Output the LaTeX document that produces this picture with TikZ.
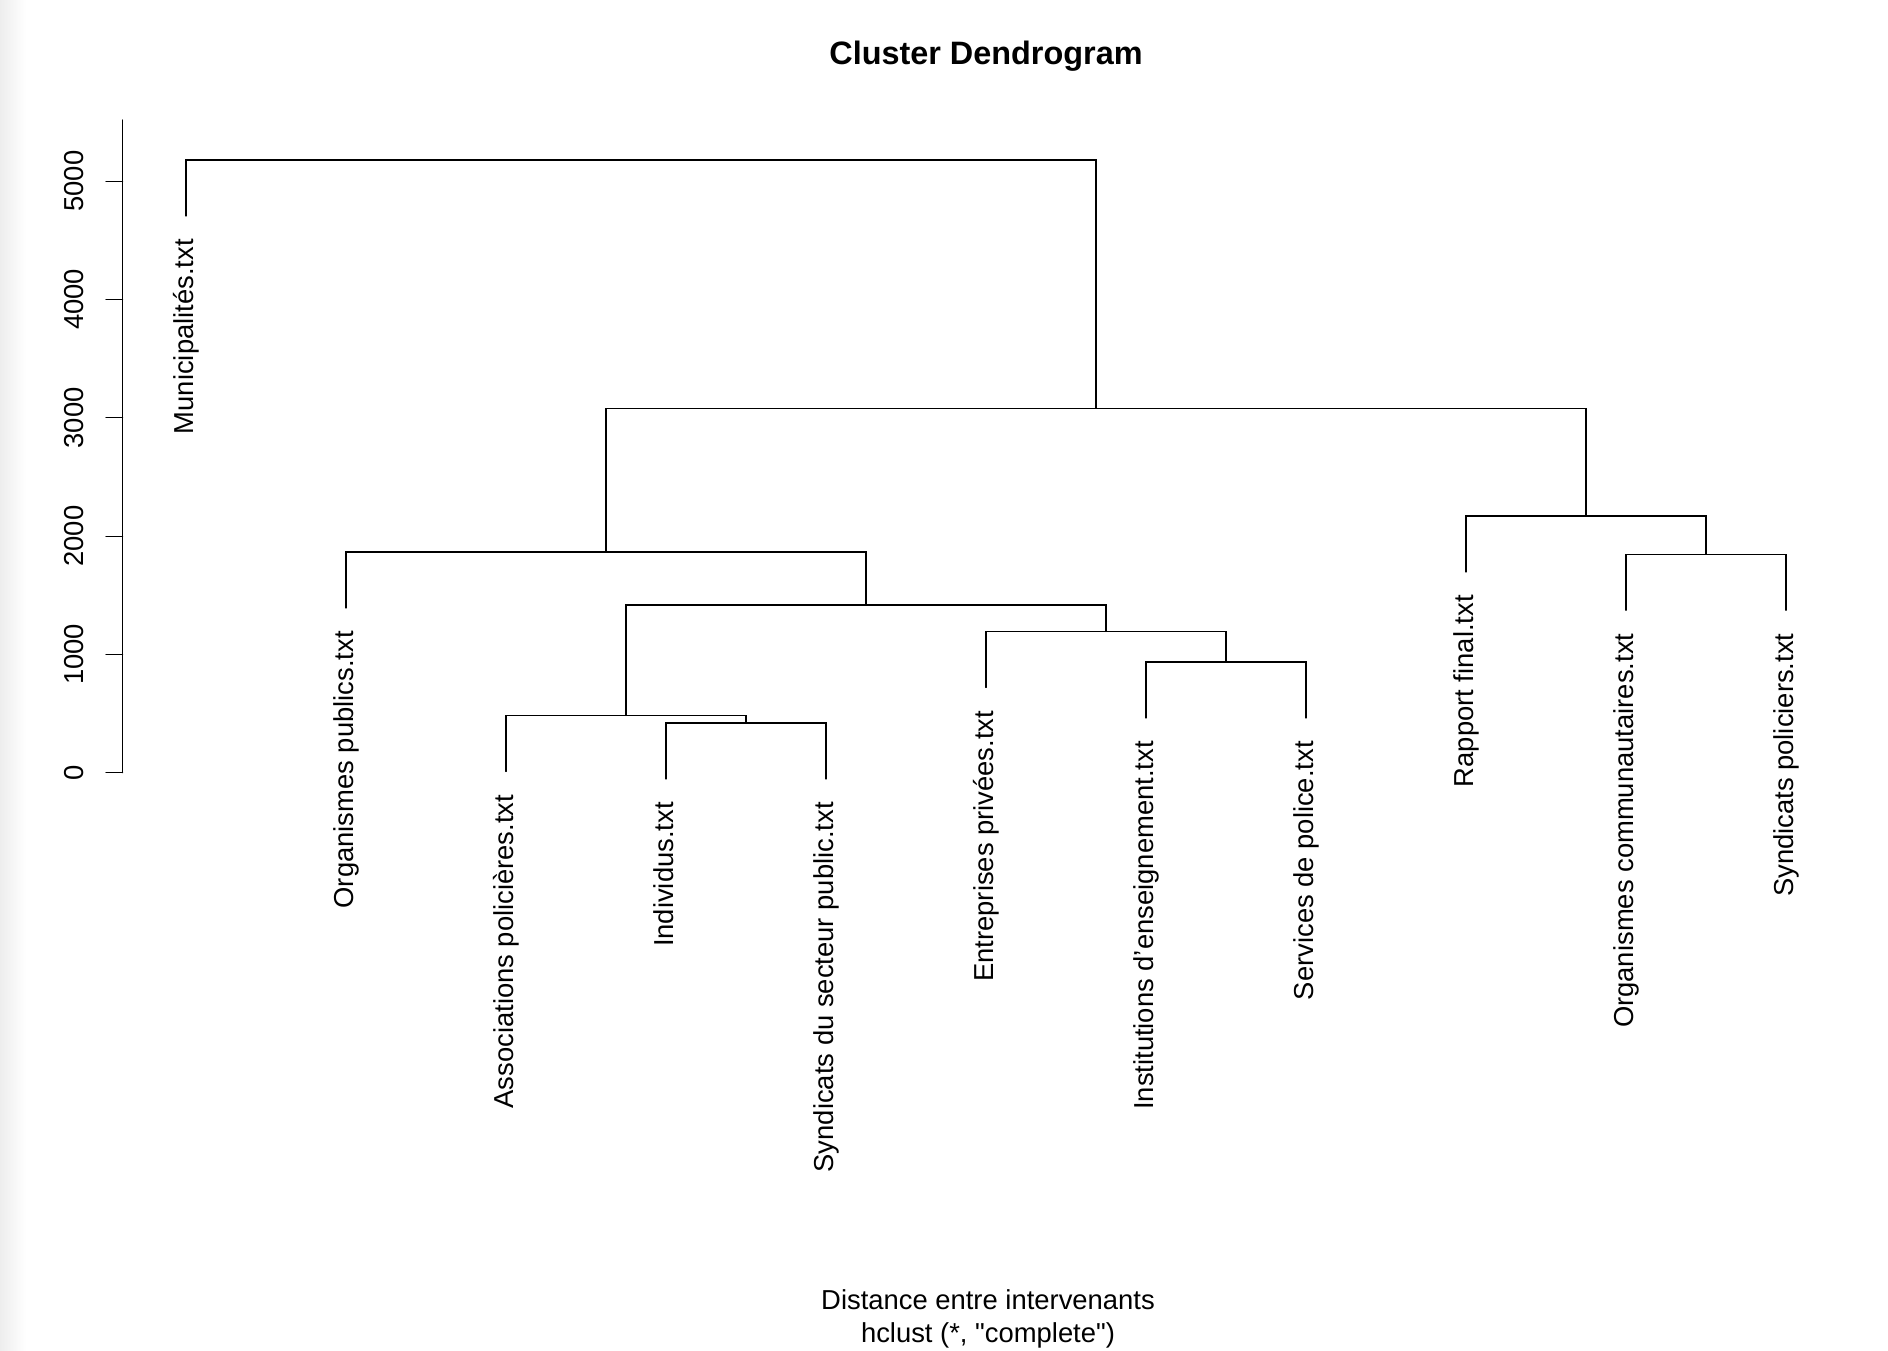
\documentclass[tikz,border=0pt]{standalone}
\usepackage{fontspec}
\setmainfont{Liberation Sans}[Ligatures=TeXOff]
\begin{document}
\begin{tikzpicture}[x=1pt,y=-1pt,
  branch/.style={line width=1.1pt,line cap=round},
  lab/.style={inner sep=0pt,font=\fontsize{27.4}{32}\selectfont,anchor=base east,rotate=90},
  ticklab/.style={inner sep=0pt,font=\fontsize{27.4}{32}\selectfont,anchor=base,rotate=90},
  plain/.style={inner sep=0pt,font=\fontsize{27.4}{32}\selectfont,anchor=base},
  titlestyle/.style={inner sep=0pt,font=\fontsize{32.4}{38}\selectfont\bfseries,anchor=base}]
\useasboundingbox (0,0) rectangle (1888,1350);
\fill[white] (0,0) rectangle (1888,1350);
\shade[left color=black!7,right color=white] (0,0) rectangle (26,1350);

% title and axis titles
\node[titlestyle] (title) at (986,64) {Cluster Dendrogram};
\node[plain] (xlab) at (988,1309) {Distance entre intervenants};
\node[plain] (sub) at (988,1342) {hclust (*, "complete")};

% y axis
\coordinate (axbot) at (122.7,772.7);
\coordinate (axtop) at (122.7,120);
\draw[branch] (axbot) -- (axtop);
\foreach \v/\yy in {0/772.7,1000/654.4,2000/536.1,3000/417.8,4000/299.5,5000/181.2}{
  \coordinate (tk\v) at (122.7,\yy);
  \draw[branch] (tk\v) -- ++(-16.7,0);
  \node[ticklab] (tl\v) at (83.3,\yy) {\v};
}

% leaves (bottom ends of the leaf segments)
\coordinate (Mun) at (186,216);
\coordinate (OrgPub) at (346,608);
\coordinate (Assoc) at (506,771.5);
\coordinate (Indiv) at (666,779);
\coordinate (SyndSect) at (826,779);
\coordinate (Entr) at (986,687.5);
\coordinate (Inst) at (1146,718);
\coordinate (Serv) at (1306,718);
\coordinate (Rapport) at (1466,572);
\coordinate (OrgComm) at (1626,610.3);
\coordinate (SyndPol) at (1786,610.3);

% merges
\coordinate (m1) at (746,723);
\coordinate (m2) at (626,715.5);
\coordinate (m3) at (1226,662);
\coordinate (m4) at (1106,631.5);
\coordinate (m5) at (866,605);
\coordinate (m6) at (606,552);
\coordinate (m7) at (1706,554.3);
\coordinate (m8) at (1586,516);
\coordinate (m9) at (1096,408.3);
\coordinate (m10) at (641,160);

\draw[branch] (m1) -| (Indiv);   \draw[branch] (m1) -| (SyndSect);
\draw[branch] (m2) -| (Assoc);   \draw[branch] (m2) -| (m1);
\draw[branch] (m3) -| (Inst);    \draw[branch] (m3) -| (Serv);
\draw[branch] (m4) -| (Entr);    \draw[branch] (m4) -| (m3);
\draw[branch] (m5) -| (m2);      \draw[branch] (m5) -| (m4);
\draw[branch] (m6) -| (OrgPub);  \draw[branch] (m6) -| (m5);
\draw[branch] (m7) -| (OrgComm); \draw[branch] (m7) -| (SyndPol);
\draw[branch] (m8) -| (Rapport); \draw[branch] (m8) -| (m7);
\draw[branch] (m9) -| (m6);      \draw[branch] (m9) -| (m8);
\draw[branch] (m10) -| (Mun);    \draw[branch] (m10) -| (m9);

% labels
\node[lab] (tMun) at ([shift={(7.3,23)}]Mun) {Municipalités.txt};
\node[lab] (tOrgPub) at ([shift={(7.3,23)}]OrgPub) {Organismes publics.txt};
\node[lab] (tAssoc) at ([shift={(7.3,23)}]Assoc) {Associations policières.txt};
\node[lab] (tIndiv) at ([shift={(7.3,23)}]Indiv) {Individus.txt};
\node[lab] (tSyndSect) at ([shift={(7.3,23)}]SyndSect) {Syndicats du secteur public.txt};
\node[lab] (tEntr) at ([shift={(7.3,23)}]Entr) {Entreprises privées.txt};
\node[lab] (tInst) at ([shift={(7.3,23)}]Inst) {Institutions d’enseignement.txt};
\node[lab] (tServ) at ([shift={(7.3,23)}]Serv) {Services de police.txt};
\node[lab] (tRapport) at ([shift={(7.3,23)}]Rapport) {Rapport final.txt};
\node[lab] (tOrgComm) at ([shift={(7.3,23)}]OrgComm) {Organismes communautaires.txt};
\node[lab] (tSyndPol) at ([shift={(7.3,23)}]SyndPol) {Syndicats policiers.txt};
\end{tikzpicture}
\end{document}
